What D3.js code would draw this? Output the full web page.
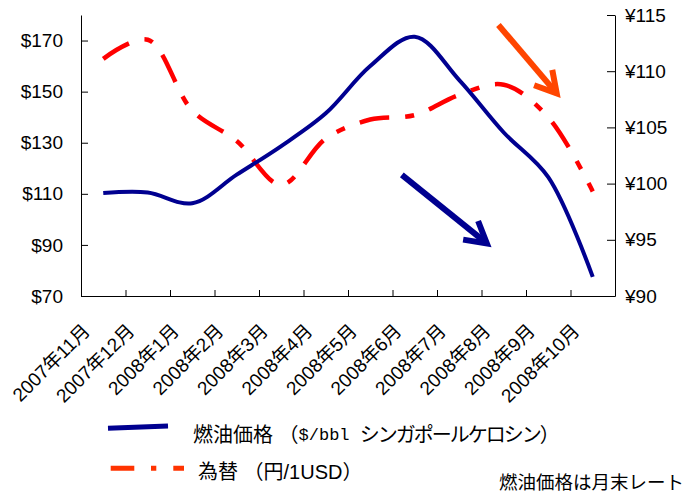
<!DOCTYPE html>
<html lang="ja">
<head>
	<meta charset="UTF-8">
	<title>燃油価格と為替</title>
	<style>
		body { margin: 0; background: #fff; }
		svg text { font-family: "Liberation Sans", Arial, "Noto Sans CJK JP", sans-serif; fill: #000; }
	</style>
</head>
<body>
	<svg id="cont" width="685" height="492"></svg>
<script src="https://cdn.jsdelivr.net/npm/d3@7/dist/d3.min.js"></script>
<script>
	// data
	let months = ["2007年11月", "2007年12月", "2008年1月", "2008年2月", "2008年3月", "2008年4月",
		"2008年5月", "2008年6月", "2008年7月", "2008年8月", "2008年9月", "2008年10月"];
	let fuelPrice = [110.3, 110.5, 106.3, 117.5, 128.7, 141.5, 160, 171.5, 154.5, 134, 116.5, 77.5];
	let yenRate = [111.1, 112.8, 106.5, 103.8, 99.9, 104.0, 105.7, 106.1, 107.9, 108.8, 105.9, 99.3];
	let fuelTicks = [70, 90, 110, 130, 150, 170];
	let yenTicks = [90, 95, 100, 105, 110, 115];

	let svg = d3.select("#cont");
	let plotLeft = 81, plotRight = 615, plotTop = 15, plotBottom = 296;

	let x = d3.scaleBand().domain(months).range([plotLeft, plotRight]);
	let xi = d3.scaleLinear().domain([0, months.length]).range([plotLeft, plotRight]);
	let yL = d3.scaleLinear().domain([70, 180]).range([plotBottom, plotTop]);
	let yR = d3.scaleLinear().domain([90, 115]).range([plotBottom, plotTop]);
	let cx = m => x(m) + x.bandwidth() / 2;

	// axes
	let leftAxis = d3.axisLeft(yL)
		.tickValues(fuelTicks)
		.tickSizeInner(-7)
		.tickSizeOuter(0)
		.tickPadding(18)
		.tickFormat(d => "$" + d);
	svg.append("g")
		.attr("transform", "translate(" + plotLeft + ",0)")
		.call(leftAxis);

	let rightAxis = d3.axisRight(yR)
		.tickValues(yenTicks)
		.tickSizeInner(-8)
		.tickSizeOuter(0)
		.tickPadding(10)
		.tickFormat(d => "¥" + d);
	svg.append("g")
		.attr("transform", "translate(" + plotRight + ",0)")
		.call(rightAxis);

	let bottomAxis = d3.axisBottom(xi)
		.tickValues(d3.range(1, months.length))
		.tickSizeInner(-6)
		.tickSizeOuter(0)
		.tickFormat("");
	svg.append("g")
		.attr("transform", "translate(0," + plotBottom + ")")
		.call(bottomAxis);

	svg.selectAll(".domain, .tick line").attr("stroke", "#000");
	svg.selectAll("g").attr("font-family", null).attr("font-size", null);
	svg.selectAll(".tick text").attr("font-size", 19);

	svg.append("g").selectAll("text")
		.data(months)
		.join("text")
		.attr("font-size", 19)
		.attr("text-anchor", "end")
		.attr("transform", d => "translate(" + (cx(d) - 12) + ",332) rotate(-45)")
		.text(d => d);

	// lines
	let fuelLine = d3.line()
		.x((d, i) => cx(months[i]))
		.y(d => yL(d))
		.curve(d3.curveCatmullRom.alpha(0.5));
	let yenLine = d3.line()
		.x((d, i) => cx(months[i]))
		.y(d => yR(d))
		.curve(d3.curveCatmullRom.alpha(0.5));

	svg.append("path")
		.attr("d", yenLine(yenRate))
		.attr("fill", "none")
		.attr("stroke", "#ff0000")
		.attr("stroke-width", 4.5)
		.attr("stroke-dasharray", "30,16,9,16");

	svg.append("path")
		.attr("d", fuelLine(fuelPrice))
		.attr("fill", "none")
		.attr("stroke", "#000090")
		.attr("stroke-width", 4);

	// trend arrows, in (month index, $) units
	let arrows = [
		{x0: 7.21, y0: 117.4, x1: 9.12, y1: 90.6, color: "#000090"},
		{x0: 9.38, y0: 176.1, x1: 10.69, y1: 149.3, color: "#ff4500"}
	];
	arrows.forEach(a => {
		let p0 = [xi(a.x0), yL(a.y0)], p1 = [xi(a.x1), yL(a.y1)];
		let ang = Math.atan2(p1[1] - p0[1], p1[0] - p0[0]);
		let arm = s => [p1[0] + 24 * Math.cos(ang + Math.PI + s), p1[1] + 24 * Math.sin(ang + Math.PI + s)];
		svg.append("line")
			.attr("x1", p0[0]).attr("y1", p0[1])
			.attr("x2", p1[0]).attr("y2", p1[1])
			.attr("stroke", a.color)
			.attr("stroke-width", 6);
		svg.append("path")
			.attr("d", "M" + arm(0.52) + "L" + p1 + "L" + arm(-0.52))
			.attr("fill", "none")
			.attr("stroke", a.color)
			.attr("stroke-width", 6);
	});

	// legend
	svg.append("line")
		.attr("x1", 108).attr("y1", 428.3)
		.attr("x2", 168).attr("y2", 426)
		.attr("stroke", "#000090")
		.attr("stroke-width", 5);
	let t1 = svg.append("text")
		.attr("x", 193).attr("y", 435)
		.attr("font-size", 20)
		.attr("dominant-baseline", "central");
	t1.append("tspan").text("燃油価格 （");
	t1.append("tspan").attr("font-family", "Liberation Mono").attr("font-size", 17).text("$/bbl ");
	t1.append("tspan").attr("letter-spacing", -2).text("シンガポールケロシン）");

	svg.append("line")
		.attr("x1", 110.7).attr("y1", 468.3)
		.attr("x2", 184).attr("y2", 468.3)
		.attr("stroke", "#ff3300")
		.attr("stroke-width", 5)
		.attr("stroke-dasharray", "23.6,16.7,5.3,17");
	svg.append("text")
		.attr("x", 198).attr("y", 471.7)
		.attr("font-size", 20)
		.attr("dominant-baseline", "central")
		.text("為替 （円/1USD）");

	svg.append("text")
		.attr("x", 499).attr("y", 482)
		.attr("font-size", 18.5)
		.attr("dominant-baseline", "central")
		.text("燃油価格は月末レート");
</script>
</body>
</html>
